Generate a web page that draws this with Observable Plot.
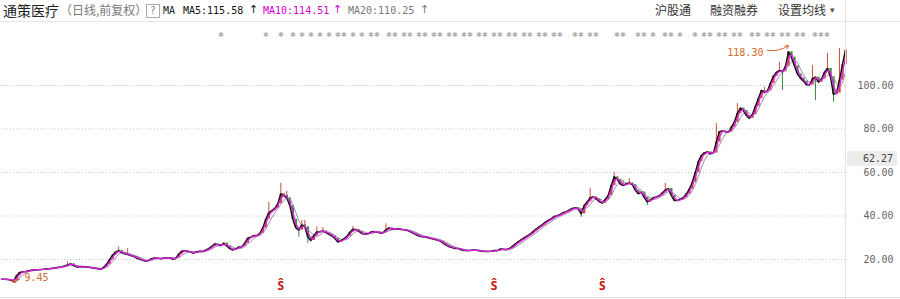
<!DOCTYPE html>
<html><head><meta charset="utf-8">
<script src="https://cdn.jsdelivr.net/npm/d3@7"></script>
<script src="https://cdn.jsdelivr.net/npm/@observablehq/plot@0.6"></script>
<style>
body{margin:0;background:#fff;}
#wrap{position:relative;width:900px;height:299px;overflow:hidden;font-family:"Noto Sans CJK SC",sans-serif;}
#head{position:absolute;left:0;top:0;width:900px;height:21px;border-bottom:1px solid #e6e6e6;}
.t{position:absolute;white-space:nowrap;line-height:1;}
#qbox{position:absolute;left:146px;top:4px;width:12px;height:12px;border:1px solid #aaa;color:#888;font:10px "DejaVu Sans";text-align:center;line-height:12px;}
#chart{position:absolute;left:0;top:22px;}
#vline{position:absolute;left:845px;top:0;width:1px;height:299px;background:#e2e2e2;}
#bline{position:absolute;left:0;top:297px;width:900px;height:1px;background:#e2e2e2;}
#cur{position:absolute;left:847px;top:151px;width:46px;height:15px;padding-right:4px;background:#ececec;font:10px "DejaVu Sans Mono",monospace;color:#444;text-align:right;line-height:15px;}
</style></head>
<body>
<div id="wrap">
  <div id="head"></div>
  <div id="chart"></div>
  <div id="vline"></div>
  <div id="bline"></div>
  <div id="cur"></div>
</div>
<script>
const closes = [
10.9,10.9,10.8,10.6,10.0,12.5,14.0,14.3,14.5,14.8,
15.1,15.3,15.3,15.4,15.5,15.7,15.8,16.0,16.2,16.4,
16.6,17.0,17.5,18.0,17.2,16.6,16.5,16.8,16.6,16.4,
16.2,16.0,15.7,15.5,16.4,17.8,20.0,22.0,23.4,24.1,
23.2,22.6,22.3,21.8,21.4,20.7,20.1,19.6,19.2,19.6,
20.4,20.7,20.6,20.3,20.6,20.8,20.8,20.1,20.6,22.4,
23.8,24.0,23.7,23.4,22.9,23.6,23.8,23.7,24.3,25.0,
26.0,27.1,26.9,26.3,27.5,26.2,25.0,24.3,24.9,25.7,
25.9,27.5,29.8,30.3,31.0,31.0,32.0,34.5,38.5,41.5,
42.5,43.5,45.6,50.2,49.4,48.3,44.8,38.5,34.5,33.5,
35.9,35.0,30.3,28.7,31.0,32.7,32.8,33.1,32.5,31.6,
30.8,29.7,28.0,28.7,29.5,30.6,32.5,33.9,33.7,32.9,
31.9,31.6,31.8,32.6,32.9,32.7,32.1,32.3,33.6,34.5,
34.0,33.9,34.1,33.8,33.7,33.4,32.8,32.1,31.4,30.8,
30.5,30.3,30.0,29.6,29.3,28.9,28.5,27.5,26.6,25.9,
25.5,25.1,25.0,24.5,24.1,24.1,24.1,24.4,24.3,24.0,
23.8,23.7,23.7,23.8,24.1,24.1,24.8,24.7,24.5,25.0,
25.9,27.1,28.1,29.0,29.9,30.8,31.7,32.8,34.0,35.0,
35.9,37.1,38.0,38.7,39.8,40.1,40.7,41.5,42.0,42.7,
43.5,43.8,43.3,41.0,44.8,46.5,48.4,48.8,47.9,46.6,
45.9,47.6,49.4,54.0,58.0,56.8,54.7,54.0,54.8,55.2,
54.4,51.9,50.2,51.0,48.5,46.5,47.3,48.4,48.8,49.3,
50.6,51.9,52.6,49.5,47.1,47.1,47.7,48.4,50.1,52.3,
55.5,60.0,65.0,67.8,69.0,69.5,68.6,68.9,74.0,78.8,
79.1,78.7,78.5,80.8,83.1,87.2,89.6,88.5,86.2,84.9,
86.6,90.4,94.0,97.7,96.8,97.5,101.0,104.3,106.0,106.9,
106.3,108.7,115.5,113.0,109.0,105.3,103.4,102.0,100.3,100.2,
103.1,103.8,101.5,103.0,106.1,107.8,104.0,95.9,96.5,102.5,
109.7,116.2
];
// visible wick extremes (sample index, extreme price)
const wickIdx = [22,39,42,89,93,95,99,100,101,102,105,107,117,128,193,196,204,207,209,215,221,238,245,254,259,260,270,271,275,277,279,281];
const wickEnd = [18.8,25.7,25.0,46.3,55.1,51.4,30.3,38.0,38.0,27.4,34.9,34.6,35.2,36.4,39.4,52.6,60.1,56.3,57.2,44.8,55.0,82.5,91.7,99.2,110.6,97.7,109.2,93.1,114.7,92.3,117.0,118.0];
const maNames = ["MA5","MA10","MA20"];
const maLegend = [115.58, 114.51, 110.25];
const maWindows = [1, 2, 4];          // in sample units (each sample ≈ several trading days)
const yTicks = [20, 40, 60, 80, 100];
const currentPrice = 62.27;
const highMark = {i: 262, v: 118.30};
const lowMark = {i: 4, v: 9.45};
const eventIdx = [73,88,93,97,100,103,106,109,112,114,117,120,123,125,129,131,134,136,139,141,144,146,149,151,154,156,159,161,164,166,169,171,174,176,179,181,184,186,191,193,196,198,205,207,212,214,217,221,223,226,231,234,236,239,241,244,246,250,252,255,257,260,262,265,267,271,273,275];
const dividendIdx = [93, 164, 200];
const headerLeft = ["通策医疗", "（日线,前复权）"];
const headerRight = ["沪股通", "融资融券", "设置均线"];

// ---- header ----
const head = document.getElementById("head");
function span(txt, left, top, style){const s=document.createElement("span");s.className="t";s.textContent=txt;s.style.left=left+"px";s.style.top=top+"px";Object.assign(s.style,style||{});head.appendChild(s);return s;}
span(headerLeft[0], 3, 3, {fontSize:"14px", color:"#222"});
span(headerLeft[1], 60, 4, {fontSize:"12px", color:"#777"});
const q=document.createElement("div");q.id="qbox";q.textContent="?";head.appendChild(q);
const mono={fontFamily:"DejaVu Sans Mono, monospace", fontSize:"10px"};
span("MA", 163, 6, {...mono, color:"#222"});
const maColors=["#111","#d000d0","#777"];
const maLeft=[183,263,348], arrLeft=[249,333,420];
maNames.forEach((n,k)=>{
  span(n+":"+maLegend[k].toFixed(2), maLeft[k], 6, {...mono, color:maColors[k]});
  span("↑", arrLeft[k], 4, {fontFamily:"DejaVu Sans", fontSize:"11px", color:maColors[k]});
});
span(headerRight[0], 655, 4, {fontSize:"12px", color:"#333"});
span(headerRight[1], 710, 4, {fontSize:"12px", color:"#333"});
span(headerRight[2], 778, 4, {fontSize:"12px", color:"#333"});
span("▾", 830, 6, {fontFamily:"DejaVu Sans", fontSize:"9px", color:"#555"});
document.getElementById("cur").textContent = currentPrice.toFixed(2);

// ---- chart ----
const data = closes.map((c,i)=>({i, close:c, open: i ? closes[i-1] : c}));
const up = data.filter(d=>d.close>=d.open), down = data.filter(d=>d.close<d.open);
const wicks = wickIdx.map((i,k)=>({i, y1: closes[i], y2: wickEnd[k]}));
const wUp = wicks.filter(d=>d.y2>=d.y1), wDown = wicks.filter(d=>d.y2<d.y1);
const orange = "#d0692a", red = "#c9503a", green = "#3c8a3c";
const chart = Plot.plot({
  width: 900, height: 277,
  marginLeft: 1, marginRight: 55, marginTop: 10.8, marginBottom: 5.2,
  x: {domain: [0, closes.length-1], axis: null},
  y: {domain: [4, 124], axis: null},
  marks: [
    Plot.ruleY(yTicks, {stroke: "#c4c4c4", strokeDasharray: "1,2"}),
    Plot.text(yTicks, {y: d=>d, text: d=>d.toFixed(2), frameAnchor: "right", dx: 48, textAnchor: "end", fill: "#666", fontFamily: "DejaVu Sans Mono", fontSize: 10}),
    Plot.ruleX(wUp, {x: "i", y1: "y1", y2: "y2", stroke: red, strokeWidth: 1}),
    Plot.ruleX(wDown, {x: "i", y1: "y1", y2: "y2", stroke: green, strokeWidth: 1}),
    Plot.ruleX(up, {x: "i", y1: "open", y2: "close", stroke: red, strokeWidth: 2.4}),
    Plot.ruleX(down, {x: "i", y1: "open", y2: "close", stroke: green, strokeWidth: 2.4}),
    Plot.lineY(data, Plot.windowY({k: maWindows[2], anchor: "end"}, {x: "i", y: "close", stroke: "#9c8caa", strokeWidth: 1})),
    Plot.lineY(data, Plot.windowY({k: maWindows[0], anchor: "end"}, {x: "i", y: "close", stroke: "#111", strokeWidth: 1.5})),
    Plot.lineY(data, Plot.windowY({k: maWindows[1], anchor: "end"}, {x: "i", y: "close", stroke: "#e020e0", strokeWidth: 1.3})),
    Plot.text(eventIdx, {x: d=>d, frameAnchor: "top", dy: -1, text: ()=>"✱", fill: "#b0b0b0", fontSize: 6.5}),
    Plot.text(dividendIdx, {x: d=>d, frameAnchor: "bottom", dy: -4, text: ()=>"Ŝ", fill: "#cc1010", fontSize: 12, fontWeight: "bold"}),
    Plot.text([highMark], {x: "i", y: "v", text: d=>d.v.toFixed(2), dx: -25, dy: 7, textAnchor: "end", fill: orange, fontFamily: "DejaVu Sans Mono", fontSize: 10}),
    Plot.arrow([highMark], {x1: d=>d.i-7, y1: d=>d.v-2.2, x2: "i", y2: "v", bend: -20, stroke: orange, strokeWidth: 1, headLength: 5}),
    Plot.text([lowMark], {x: "i", y: "v", text: d=>d.v.toFixed(2), dx: 11, dy: -5, textAnchor: "start", fill: orange, fontFamily: "DejaVu Sans Mono", fontSize: 10}),
    Plot.arrow([lowMark], {x1: d=>d.i+2, y1: d=>d.v+1.6, x2: "i", y2: "v", stroke: orange, strokeWidth: 1.2, headLength: 5})
  ]
});
document.getElementById("chart").appendChild(chart);
</script>
</body></html>
